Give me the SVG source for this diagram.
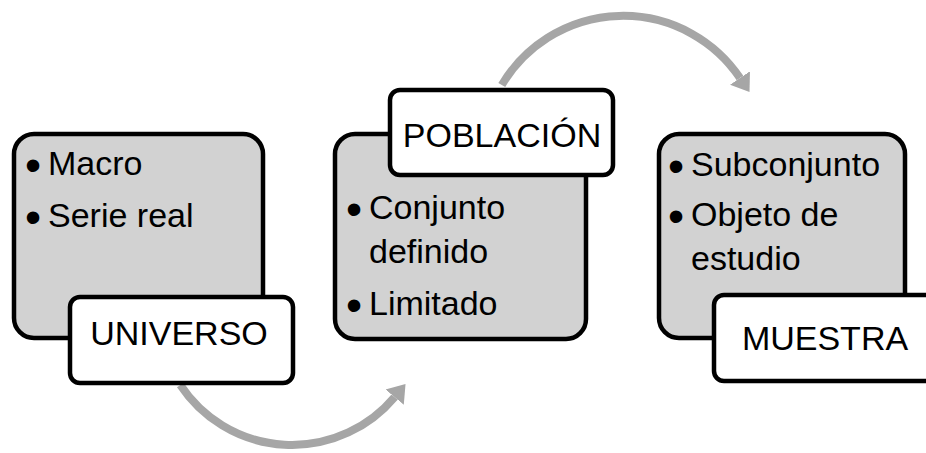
<svg xmlns="http://www.w3.org/2000/svg" width="926" height="453" viewBox="0 0 926 453">
<style>
.bg{fill:#d2d2d2;stroke:#000;stroke-width:4.5}
.lbl{fill:#fff;stroke:#000;stroke-width:4.5}
.t{font-family:"Liberation Sans",Arial,sans-serif;font-size:34px;fill:#000}
.c{text-anchor:middle}
.b{font-family:"Liberation Sans",Arial,sans-serif;font-size:46px;fill:#000}
.arc{fill:none;stroke:#a6a6a6;stroke-width:8}
</style>
<defs>
<marker id="ah" markerUnits="userSpaceOnUse" markerWidth="20" markerHeight="26" refX="0" refY="13" orient="auto" viewBox="0 0 20 26">
<path d="M0,1 L17,13 L0,25 Z" fill="#a6a6a6"/>
</marker>
</defs>
<g id="connectors">
<path class="arc" d="M180.3,385 A134,134 0 0 0 394.6,397.1" marker-end="url(#ah)"/>
<path class="arc" d="M501.8,85 A141,141 0 0 1 740,78" marker-end="url(#ah)"/>
</g>
<g id="universo">
<rect class="bg" x="14" y="134" width="249" height="204" rx="20"/>
<text class="b" x="25" y="180.6">•</text>
<text class="t" x="48" y="175">Macro</text>
<text class="b" x="25" y="232.6">•</text>
<text class="t" x="48" y="227">Serie real</text>
<rect class="lbl" x="70" y="297" width="223" height="86" rx="10"/>
<text class="t c" x="179" y="345">UNIVERSO</text>
</g>
<g id="poblacion">
<rect class="bg" x="335" y="134" width="251" height="205" rx="20"/>
<text class="b" x="346" y="224.6">•</text>
<text class="t" x="369" y="219">Conjunto</text>
<text class="t" x="369" y="263">definido</text>
<text class="b" x="346" y="320.6">•</text>
<text class="t" x="369" y="315">Limitado</text>
<rect class="lbl" x="390" y="90" width="223" height="85" rx="10"/>
<text class="t c" x="502" y="147">POBLACIÓN</text>
</g>
<g id="muestra">
<rect class="bg" x="659" y="134" width="246" height="204" rx="20"/>
<text class="b" x="668" y="181.6">•</text>
<text class="t" x="691" y="176">Subconjunto</text>
<text class="b" x="668" y="231.6">•</text>
<text class="t" x="691" y="226">Objeto de</text>
<text class="t" x="691" y="270">estudio</text>
<rect class="lbl" x="714" y="295" width="223" height="86" rx="10"/>
<text class="t c" x="825" y="350">MUESTRA</text>
</g>
</svg>
